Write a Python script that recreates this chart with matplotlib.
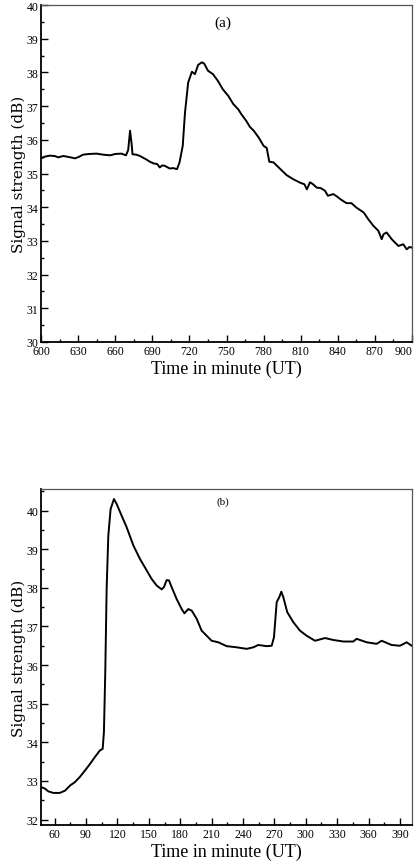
import matplotlib
matplotlib.use("Agg")
import matplotlib.pyplot as plt
from matplotlib.ticker import MultipleLocator

# Panel (a)
time_a = [600, 603, 607, 611, 614, 618, 621, 625, 627.5, 631, 634, 639, 645, 650, 656, 660, 665, 668.7,
          670.5, 672, 673.2, 674, 677, 680, 685, 688, 691, 694, 696, 698, 700, 704, 707, 710, 712,
          714.6, 716.4, 719, 722, 724.5, 727, 730, 732, 735, 739, 743, 747, 751.5, 755.5, 759.6,
          762, 766, 769, 772, 776, 780, 782.5, 784.6, 788, 793, 798.7, 804, 809.4, 813, 815, 817.5,
          820, 823, 826, 829.6, 832, 836.4, 840, 842, 847, 851, 855, 861, 864.7, 866, 868.7, 872.8,
          875.5, 877, 879.5, 883.6, 886, 889, 893, 895.7, 898, 900]
signal_a = [35.45, 35.50, 35.53, 35.52, 35.48, 35.52, 35.50, 35.47, 35.45, 35.50, 35.56, 35.58, 35.59,
            35.56, 35.54, 35.58, 35.59, 35.54, 35.70, 36.27, 35.90, 35.57, 35.56, 35.52, 35.42, 35.35,
            35.30, 35.28, 35.18, 35.24, 35.23, 35.15, 35.16, 35.13, 35.33, 35.82, 36.80, 37.70, 38.02,
            37.95, 38.22, 38.30, 38.26, 38.05, 37.95, 37.75, 37.50, 37.30, 37.06, 36.90, 36.76, 36.56,
            36.38, 36.27, 36.07, 35.82, 35.76, 35.35, 35.33, 35.15, 34.95, 34.83, 34.73, 34.68, 34.53,
            34.74, 34.68, 34.58, 34.57, 34.49, 34.34, 34.39, 34.30, 34.24, 34.12, 34.12, 33.99, 33.84,
            33.64, 33.58, 33.45, 33.30, 33.05, 33.20, 33.25, 33.05, 32.96, 32.85, 32.90, 32.75, 32.82, 32.80]

# Panel (b)
time_b = [47.3, 50.8, 54, 58.7, 65, 70, 74.7, 79.4, 84, 89, 93.8, 98.5, 103.3, 105.9, 107.1, 108.4,
          109.7, 111.3, 113.5, 116.7, 119.3, 124, 128.8, 135.2, 141.5, 148, 152.7, 157.5, 162.3, 164.5,
          167, 169.3, 171.8, 176.6, 181.4, 184, 187.7, 191, 195.7, 200.5, 205.3, 210, 216.4, 224.4,
          234, 243.5, 249.9, 254.6, 262.6, 267.4, 269.6, 272.2, 274.7, 276.6, 278.5, 282.3, 288.1,
          294.5, 300.8, 308.8, 318.4, 326.3, 335.9, 345.4, 348.6, 358.2, 367.7, 372.5, 382, 390,
          396.4, 401.8]
signal_b = [32.84, 32.80, 32.73, 32.69, 32.69, 32.75, 32.88, 32.97, 33.10, 33.27, 33.44, 33.62, 33.79,
            33.83, 34.26, 35.82, 37.97, 39.35, 40.04, 40.30, 40.17, 39.87, 39.57, 39.10, 38.75, 38.45,
            38.23, 38.06, 37.96, 38.02, 38.20, 38.19, 38.02, 37.71, 37.45, 37.34, 37.45, 37.41, 37.20,
            36.89, 36.76, 36.63, 36.59, 36.49, 36.46, 36.42, 36.46, 36.52, 36.49, 36.50, 36.72, 37.63,
            37.76, 37.90, 37.76, 37.37, 37.11, 36.89, 36.76, 36.63, 36.70, 36.65, 36.61, 36.61, 36.68,
            36.59, 36.55, 36.63, 36.52, 36.50, 36.59, 36.49]

xticks_a = [600, 630, 660, 690, 720, 750, 780, 810, 840, 870, 900]
yticks_a = [30, 31, 32, 33, 34, 35, 36, 37, 38, 39, 40]
xticks_b = [60, 90, 120, 150, 180, 210, 240, 270, 300, 330, 360, 390]
yticks_b = [32, 33, 34, 35, 36, 37, 38, 39, 40]

serif = ["Liberation Serif", "DejaVu Serif"]
plt.rcParams["font.family"] = serif

fig = plt.figure(figsize=(4.19, 8.62), dpi=100)
ax1 = fig.add_axes([0.0979, 0.6021, 0.8854, 0.3909])
ax2 = fig.add_axes([0.0979, 0.0418, 0.8854, 0.3898])


def style(ax, xt, yt):
    ax.set_xticks(xt)
    ax.set_yticks(yt)
    ax.xaxis.set_minor_locator(MultipleLocator(15))
    ax.yaxis.set_minor_locator(MultipleLocator(0.5))
    ax.tick_params(which="both", direction="in", top=False, right=False, labelsize=8.5, width=1.0)
    ax.tick_params(which="major", length=5)
    ax.tick_params(which="minor", length=2.5)
    ax.tick_params(axis="x", pad=2)
    ax.tick_params(axis="y", pad=2)
    for s in ["left", "bottom"]:
        ax.spines[s].set_linewidth(1.3)
        ax.spines[s].set_color("black")
    for s in ["top", "right"]:
        ax.spines[s].set_linewidth(0.9)
        ax.spines[s].set_color("#555555")
    ax.set_xlabel("Time in minute (UT)", fontsize=13, labelpad=2)
    ax.set_ylabel("Signal strength (dB)", fontsize=11, family=["DejaVu Serif"], labelpad=0.5)


ax1.plot(time_a, signal_a, color="black", lw=1.4)
ax1.set_xlim(600, 900)
ax1.set_ylim(30, 40)
style(ax1, xticks_a, yticks_a)
ax1.text(0.49, 0.95, "(a)", transform=ax1.transAxes, ha="center", va="center", fontsize=11)
fig.canvas.draw()
ax1.get_xticklabels()[-1].set_horizontalalignment("right")

ax2.plot(time_b, signal_b, color="black", lw=1.4)
ax2.set_xlim(47, 401.5)
ax2.set_ylim(31.86, 40.56)
style(ax2, xticks_b, yticks_b)
ax2.text(0.49, 0.965, "(b)", transform=ax2.transAxes, ha="center", va="center", fontsize=8)

fig.savefig("out.png", dpi=100)
